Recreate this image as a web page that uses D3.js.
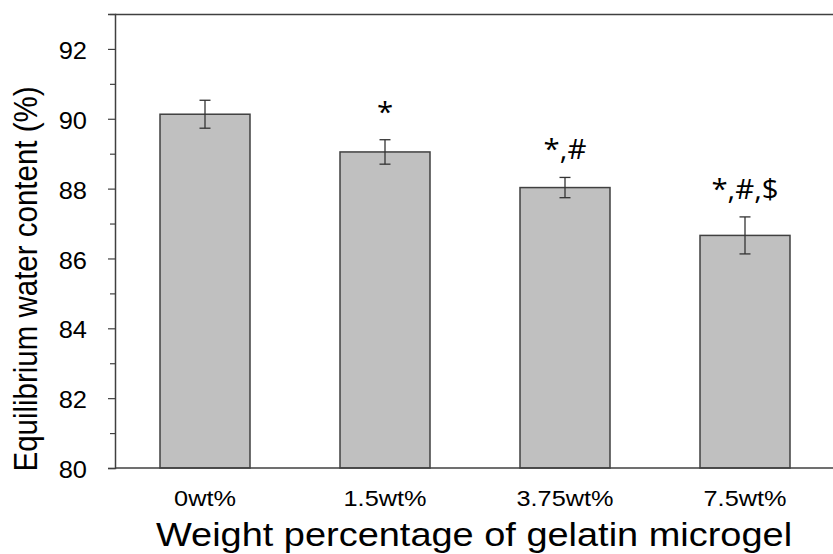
<!DOCTYPE html>
<html>
<head>
<meta charset="utf-8">
<script src="https://cdn.jsdelivr.net/npm/d3@7"></script>
<style>
  html, body { margin: 0; padding: 0; background: #fff; }
  svg { display: block; }
</style>
</head>
<body>
<svg id="chart" width="833" height="554"></svg>
<script>
const categories = ["0wt%", "1.5wt%", "3.75wt%", "7.5wt%"];
const means = [90.13, 89.05, 88.03, 86.66];
const errors = [0.40, 0.35, 0.29, 0.53];
const annotations = ["", "*", "*,#", "*,#,$"];
const yMajorTicks = [80, 82, 84, 86, 88, 90, 92];
const yMinorTicks = [81, 83, 85, 87, 89, 91, 93];
const yTitle = "Equilibrium water content (%)";
const xTitle = "Weight percentage of gelatin microgel";

(function () {
const svg = d3.select("#chart");
const mLeft = 115, mRight = 833, mTop = 14, mBottom = 468;
const font = "'Liberation Sans', Arial, sans-serif";
const stretch = 1.15;

const x = d3.scaleBand().domain(categories).range([mLeft, mLeft + 720])
  .paddingInner(0.5).paddingOuter(0.25);
const y = d3.scaleLinear().domain([80, 93]).range([mBottom, mTop]);

const axisColor = "#404040";

// top border
svg.append("line").attr("x1", mLeft).attr("x2", mRight).attr("y1", mTop + 0.5).attr("y2", mTop + 0.5)
  .attr("stroke", axisColor).attr("stroke-width", 1.5);

// bars
svg.append("g").selectAll("rect").data(categories).join("rect")
  .attr("x", d => x(d))
  .attr("y", (d, i) => y(means[i]))
  .attr("width", x.bandwidth())
  .attr("height", (d, i) => y(80) - y(means[i]))
  .attr("fill", "#c0c0c0")
  .attr("stroke", "#404040")
  .attr("stroke-width", 1.5);

// error bars
const eg = svg.append("g").attr("stroke", "#333").attr("stroke-width", 1.3);
categories.forEach((c, i) => {
  const cx = x(c) + x.bandwidth() / 2;
  const y1 = y(means[i] + errors[i]), y2 = y(means[i] - errors[i]);
  eg.append("line").attr("x1", cx).attr("x2", cx).attr("y1", y1).attr("y2", y2);
  eg.append("line").attr("x1", cx - 5.5).attr("x2", cx + 5.5).attr("y1", y1).attr("y2", y1);
  eg.append("line").attr("x1", cx - 5.5).attr("x2", cx + 5.5).attr("y1", y2).attr("y2", y2);
});

// annotations
svg.append("g").selectAll("text").data(categories).join("text")
  .attr("transform", (d, i) => `translate(${x(d) + x.bandwidth() / 2},${y(means[i] + errors[i]) - 18}) scale(1.05,1)`)
  .attr("text-anchor", "middle")
  .attr("font-family", "'Open Sans', sans-serif")
  .attr("font-size", 28)
  .attr("fill", "#000")
  .text((d, i) => annotations[i]);

// y axis
const yAxis = d3.axisLeft(y).tickValues(yMajorTicks).tickSize(7).tickPadding(21).tickFormat(d3.format("d"));
const gy = svg.append("g").attr("transform", `translate(${mLeft},0)`).call(yAxis);
gy.select(".domain").attr("stroke", axisColor).attr("stroke-width", 1.5);
gy.selectAll(".tick line").attr("stroke", axisColor).attr("stroke-width", 1.2);
gy.selectAll(".tick text")
  .attr("x", null).attr("dy", "0.36em")
  .attr("transform", "translate(-28,1) scale(1.06,1)")
  .attr("font-family", font).attr("font-size", 24).attr("fill", "#000");
const yMinor = d3.axisLeft(y).tickValues(yMinorTicks).tickSize(5).tickFormat("");
const gym = svg.append("g").attr("transform", `translate(${mLeft},0)`).call(yMinor);
gym.select(".domain").remove();
gym.selectAll(".tick line").attr("stroke", axisColor).attr("stroke-width", 1.2);

// x axis
const xAxis = d3.axisBottom(x).tickSize(0).tickPadding(0);
const gx = svg.append("g").attr("transform", `translate(0,${mBottom})`).call(xAxis);
gx.select(".domain").remove();
gx.append("line").attr("x1", mLeft).attr("x2", mRight).attr("y1", 0).attr("y2", 0)
  .attr("stroke", axisColor).attr("stroke-width", 1.5);
gx.selectAll(".tick text")
  .attr("y", null).attr("dy", null)
  .attr("transform", `translate(0,38) scale(${stretch},1)`)
  .attr("font-family", font).attr("font-size", 22).attr("fill", "#000");

// titles
svg.append("text")
  .attr("transform", `translate(474,546) scale(${stretch},1)`)
  .attr("text-anchor", "middle")
  .attr("font-family", font)
  .attr("font-size", 33).attr("fill", "#000")
  .text(xTitle);
svg.append("text")
  .attr("transform", `translate(37,279) scale(${stretch},1) rotate(-90)`)
  .attr("text-anchor", "middle")
  .attr("font-family", font)
  .attr("font-size", 29.5).attr("fill", "#000")
  .text(yTitle);
})();
</script>
</body>
</html>
